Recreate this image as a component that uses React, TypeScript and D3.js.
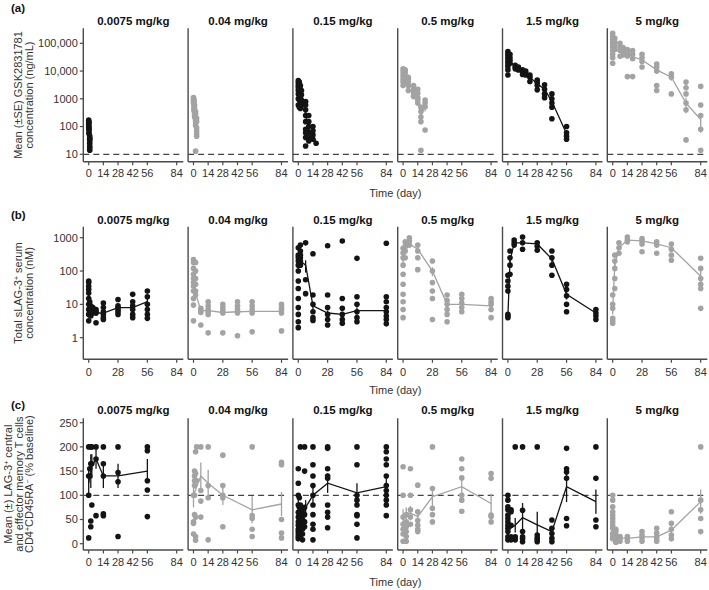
import React from "react";
import * as d3 from "d3";

// dose panels, left to right
const doses = ["0.0075 mg/kg", "0.04 mg/kg", "0.15 mg/kg", "0.5 mg/kg", "1.5 mg/kg", "5 mg/kg"];

type Grp = [number, number[]]; // [day, individual values]
type Mean = [number, number, number]; // [day, mean, se]

// (a) GSK2831781 concentration (ng/mL)
const pk0075: Grp[] = [[0, [170, 150, 130, 110, 90]], [0.3, [140, 100, 80, 60, 75, 55]], [1, [45, 38, 35, 30, 25, 20, 17, 14]]];
const pk004: Grp[] = [[0, [1100, 950, 800, 700]], [0.5, [900, 750, 600, 500, 420, 380]], [1, [600, 480, 320, 260, 220]], [2, [350, 280, 180, 150, 110, 13]], [3, [200, 150, 90, 70, 55, 45]]];
const pk015: Grp[] = [[0, [4500, 3800, 3000, 2500, 2000, 1500, 1000, 600]], [1, [4000, 3000, 2400, 1800, 1300, 900, 500]], [2, [3000, 2200, 1600, 1100, 700, 450]], [3, [2000, 1400, 900, 600]], [7, [800, 600, 400, 250, 150, 80, 60, 40, 20]], [10, [250, 150, 100, 60, 40, 30]], [14, [100, 70, 50, 35]], [17, [25]]];
const pk05: Grp[] = [[0, [12000, 10000, 8000, 6500, 5000, 4000, 3000]], [2, [11000, 9000, 7000, 5500, 4000]], [5, [6000, 5000, 4000, 3000, 2000]], [10, [3000, 2500, 2000, 1500, 1200]], [14, [2200, 1600, 1100, 900, 700]], [17, [500, 350, 220, 150, 14]], [21, [900, 700, 520, 75]]];
const pk15: Grp[] = [[0, [50000, 42000, 35000, 28000, 22000, 18000, 14500, 11000, 7200]], [2, [40000, 30000, 24000, 19000]], [7, [16000, 14000, 12000]], [10, [14000, 12000, 11000]], [14, [11000, 9500, 7500]], [17, [10000, 8500, 7200]], [21, [7200, 6000, 4200]], [28, [4700, 3800, 3000, 2100]], [35, [3200, 2200, 1500, 1100]], [42, [1500, 1000, 700, 500, 190]], [56, [100, 60, 45, 35]]];
const pk5: Grp[] = [[0, [230000, 180000, 140000, 110000, 90000, 70000, 55000, 40000, 30000, 19000]], [2, [150000, 110000, 80000, 60000]], [7, [100000, 75000, 55000, 34000]], [10, [70000, 50000, 38000]], [14, [60000, 45000, 35000, 6300]], [19, [55000, 40000, 28000, 6300]], [28, [40000, 30000, 22000, 14000]], [42, [18000, 14000, 10000, 3000, 2000]], [56, [8000, 6000, 1500]], [70, [4000, 2500, 1500, 700, 400, 33]], [84, [2800, 600, 250, 80, 14]]];
const pkMean0075: Mean[] = [[0, 130, 15], [0.3, 90, 12], [1, 28, 4]];
const pkMean004: Mean[] = [[0, 850, 90], [0.5, 620, 80], [1, 380, 60], [2, 180, 50], [3, 100, 25]];
const pkMean015: Mean[] = [[0, 2200, 400], [1, 1900, 400], [2, 1400, 350], [3, 1100, 300], [7, 300, 100], [10, 80, 35], [14, 50, 15], [17, 25, 0]];
const pkMean05: Mean[] = [[0, 7000, 1200], [2, 6000, 1000], [5, 4000, 700], [10, 2000, 300], [14, 1200, 250], [17, 250, 120], [21, 550, 200]];
const pkMean15: Mean[] = [[0, 25000, 4000], [2, 22000, 4000], [7, 14000, 1500], [10, 12000, 1000], [14, 9500, 1000], [17, 8500, 1000], [21, 6000, 800], [28, 3500, 600], [35, 2200, 500], [42, 800, 300], [56, 55, 15]];
const pkMean5: Mean[] = [[0, 80000, 15000], [2, 65000, 12000], [7, 55000, 10000], [10, 45000, 6000], [14, 40000, 8000], [19, 33000, 8000], [28, 25000, 5000], [42, 11000, 3000], [56, 6000, 1500], [70, 700, 400], [84, 180, 120]];

// (b) Total sLAG-3+ serum concentration (nM)
const sl0075: Grp[] = [[0, [50, 45, 35, 28, 22, 15, 10, 7, 5, 3.2]], [1, [12, 8, 7, 6, 5.5, 5]], [2, [9, 7, 6, 5.5, 5, 4.5]], [4, [8, 6.5, 6, 5.5]], [7, [7, 6, 5.5, 2.8]], [14, [11, 8, 6, 5, 4, 3.5]], [28, [14, 9, 8, 7, 6, 5]], [42, [20, 12, 9, 7, 5, 4]], [56, [25, 17, 10, 7, 5, 3.8]]];
const sl004: Grp[] = [[0, [220, 180, 120, 80, 60, 45, 35, 25, 15, 9.5, 3.2]], [2, [180, 100, 60, 40, 25, 19]], [7, [7.6, 6.5, 5.7, 2.4]], [14, [12, 9, 7, 6, 5, 1.4]], [28, [10, 8, 6.5, 5.5, 1.4]], [42, [12, 9, 7, 5.5, 1.15]], [56, [12, 9, 7, 5.5, 1.5]], [84, [10, 8, 7, 5.5, 1.6]]];
const sl015: Grp[] = [[0, [500, 300, 250, 200, 150, 100, 50, 30, 15, 8, 5, 3, 2]], [2, [600, 400, 300, 250, 200, 150]], [7, [700, 55, 21]], [14, [330, 19, 10, 6, 4, 3.3]], [28, [575, 19, 8, 5, 3.5, 2.4]], [42, [800, 15, 7.6, 5, 3.5, 2.7]], [56, [240, 17, 10, 6, 4, 3]], [84, [680, 17, 12, 8, 6, 4.5, 3.5, 2.6]]];
const sl05: Grp[] = [[0, [480, 350, 250, 150, 80, 40, 20, 12, 7, 4]], [2, [750, 550, 400, 250]], [6, [1000, 800, 600]], [14, [600, 400, 250, 110]], [28, [200, 100, 45, 25, 15, 3.5]], [42, [19, 13, 10, 7, 5, 3]], [56, [20, 15, 11, 8, 6]], [84, [15, 12, 10, 7, 4]]];
const sl15: Grp[] = [[0, [75, 50, 35, 25, 5, 4.5, 4]], [2, [400, 250, 150, 80]], [6, [850, 700, 600]], [14, [1050, 700, 450]], [28, [700, 550, 420]], [42, [400, 250, 150, 75]], [56, [40, 28, 18, 10, 6]], [84, [7, 5.5, 4.5, 3.5]]];
const sl5: Grp[] = [[0, [19, 10, 7.6, 3.8, 3.2, 2.7]], [2, [300, 200, 120, 60, 30]], [6, [700, 500, 340]], [14, [1050, 850, 750]], [28, [950, 800, 650, 380]], [42, [750, 600, 340]], [56, [650, 450, 300, 210]], [84, [240, 120, 60, 40, 30, 7.6]]];
const slMean0075: Mean[] = [[0, 20, 5], [1, 7, 1], [2, 6, 1], [4, 6.5, 1], [7, 5.5, 1], [14, 5.5, 1], [28, 8, 1.5], [42, 8, 2], [56, 12, 3]];
const slMean004: Mean[] = [[0, 50, 15], [2, 22, 6], [7, 6.5, 1], [14, 6.5, 1], [28, 5.7, 1], [42, 6, 1], [56, 6.2, 1], [84, 6.2, 1]];
const slMean015: Mean[] = [[0, 150, 40], [2, 200, 50], [7, 150, 60], [14, 9, 2], [28, 5.5, 1], [42, 5, 1], [56, 6.5, 1.5], [84, 6.5, 1.5]];
const slMean05: Mean[] = [[0, 200, 60], [2, 400, 80], [6, 650, 80], [14, 450, 80], [28, 100, 30], [42, 10, 2], [56, 10, 2], [84, 9, 2]];
const slMean15: Mean[] = [[0, 4.5, 0.5], [2, 200, 60], [6, 700, 60], [14, 700, 100], [28, 650, 50], [42, 230, 60], [56, 20, 6], [84, 5.5, 1]];
const slMean5: Mean[] = [[0, 8, 3], [2, 150, 50], [6, 500, 80], [14, 850, 80], [28, 800, 80], [42, 650, 80], [56, 500, 80], [84, 70, 30]];

// (c) LAG-3+ central and effector memory T cells (% baseline)
const tc0075: Grp[] = [[0, [200, 140, 100, 12]], [1, [155, 140]], [2, [200, 165, 47, 35]], [3, [200, 165, 80]], [7, [200, 175, 58]], [14, [200, 165, 140, 62, 58]], [28, [200, 147, 128, 15]], [56, [200, 192, 130, 111, 56]]];
const tc004: Grp[] = [[0, [100, 45, 42, 20]], [1, [150, 140, 130, 120, 100, 60]], [2, [190, 145, 55, 15, 7]], [3, [200, 130]], [7, [200, 110, 88, 55]], [14, [200, 120, 95, 8]], [28, [183, 120, 100, 95, 35]], [56, [200, 58, 52, 30, 15]], [84, [168, 163, 50, 22, 12]]];
const tc015: Grp[] = [[0, [155, 125, 100, 80, 65, 55, 45, 38, 30, 25, 20, 15, 10]], [1, [95, 75, 60, 50, 42, 35, 28, 20, 12]], [2, [200, 80, 62, 55, 45, 38, 30, 22, 15]], [4, [70, 58, 50, 40, 30, 20, 8]], [6, [200, 150, 75, 60, 45, 35]], [14, [200, 163, 140, 120, 100, 80, 60, 40, 30, 8]], [28, [200, 197, 155, 140, 135, 80, 65, 55, 33]], [56, [200, 163, 100, 90, 80, 60, 58, 40, 12]], [84, [200, 190, 175, 163, 140, 120, 110, 100, 90, 80, 58]]];
const tc05: Grp[] = [[0, [159, 100, 55, 40, 30, 20, 5]], [3, [60, 45, 35, 25, 15, 5]], [7, [155, 100, 70, 55, 40]], [14, [121, 66, 48, 38, 30, 25]], [28, [200, 114, 73, 60, 45]], [56, [175, 155, 136, 100, 90, 67]], [84, [145, 135, 59, 56, 45]]];
const tc15: Grp[] = [[0, [100, 90, 76, 70, 59, 52, 45, 38, 32, 25, 14, 8]], [3, [70, 66, 38, 14, 8]], [7, [200, 14, 8]], [14, [200, 69, 25, 14, 10, 4]], [28, [200, 18, 12, 8, 4]], [42, [49, 32, 21, 11, 4]], [56, [197, 155, 148, 135, 52, 37]], [84, [200, 135, 49, 35]]];
const tc5: Grp[] = [[0, [100, 90, 76, 66, 59, 52, 45, 38, 32, 21, 14, 10]], [3, [30, 25, 18, 12, 8, 4, 3]], [7, [15, 10, 5]], [14, [15, 10, 5]], [28, [25, 18, 12, 5]], [42, [32, 22, 15, 10, 5]], [56, [66, 42, 30, 18, 10]], [84, [200, 90, 70, 52, 25]]];
const tcMean0075: Mean[] = [[0, 125, 30], [2, 150, 35], [3, 160, 25], [7, 175, 20], [14, 140, 25], [28, 140, 25], [56, 150, 25]];
const tcMean004: Mean[] = [[0, 100, 25], [7, 140, 28], [14, 125, 28], [28, 100, 20], [56, 70, 28], [84, 82, 25]];
const tcMean015: Mean[] = [[0, 80, 20], [2, 45, 8], [4, 60, 12], [7, 75, 15], [14, 100, 20], [28, 125, 20], [56, 105, 20], [84, 118, 20]];
const tcMean05: Mean[] = [[0, 56, 15], [3, 63, 12], [7, 63, 15], [14, 56, 12], [28, 97, 20], [56, 118, 15], [84, 83, 20]];
const tcMean15: Mean[] = [[0, 28, 10], [7, 38, 15], [14, 54, 30], [28, 39, 27], [42, 25, 8], [56, 118, 32], [84, 87, 25]];
const tcMean5: Mean[] = [[0, 50, 15], [2, 20, 5], [4, 14, 3], [7, 12, 3], [14, 11, 3], [28, 14, 4], [42, 14, 4], [56, 28, 8], [84, 87, 25]];

const BLACK = "#141414";
const GRAY = "#a3a3a3";
const AXIS = "#4a4a4a";
const FONT = "'Liberation Sans', Arial, Helvetica, sans-serif";

const PANEL_W = 100;
const panelLeft = (i: number) => 83.3 + i * 104.8;

type Row = {
  letter: string;
  letterY: number;
  pts: Grp[][];
  means: Mean[][];
  y: d3.ScaleContinuousNumeric<number, number>;
  top: number;
  bottom: number;
  yTicks: number[];
  yFmt: (v: number) => string;
  xTicks: number[];
  ref: number | null;
  titleY: number;
  tickY: number;
  timeY: number;
  label: string[][];
  labelX: number[];
};

const sup = (s: string) => "^" + s;

const rows: Row[] = [
  {
    letter: "(a)", letterY: 12,
    pts: [pk0075, pk004, pk015, pk05, pk15, pk5],
    means: [pkMean0075, pkMean004, pkMean015, pkMean05, pkMean15, pkMean5],
    y: d3.scaleLog().domain([10, 100000]).range([154.3, 43.3]),
    top: 28.3, bottom: 161.7,
    yTicks: [10, 100, 1000, 10000, 100000],
    yFmt: (v) => (v >= 10000 ? d3.format(",")(v) : String(v)),
    xTicks: [0, 14, 28, 42, 56, 84],
    ref: 10, titleY: 25, tickY: 177, timeY: 197,
    label: [["Mean (±SE) GSK2831781"], ["concentration (ng/mL)"]],
    labelX: [18.5, 29.5],
  },
  {
    letter: "(b)", letterY: 219,
    pts: [sl0075, sl004, sl015, sl05, sl15, sl5],
    means: [slMean0075, slMean004, slMean015, slMean05, slMean15, slMean5],
    y: d3.scaleLog().domain([1, 1000]).range([337.7, 237.7]),
    top: 226.7, bottom: 359.3,
    yTicks: [1, 10, 100, 1000],
    yFmt: (v) => String(v),
    xTicks: [0, 28, 56, 84],
    ref: null, titleY: 224, tickY: 376, timeY: 394,
    label: [["Total sLAG-3", sup("+"), " serum"], ["concentration (nM)"]],
    labelX: [18.5, 29.5],
  },
  {
    letter: "(c)", letterY: 409,
    pts: [tc0075, tc004, tc015, tc05, tc15, tc5],
    means: [tcMean0075, tcMean004, tcMean015, tcMean05, tcMean15, tcMean5],
    y: d3.scaleLinear().domain([0, 250]).range([543.7, 422.7]),
    top: 418.3, bottom: 550,
    yTicks: [0, 50, 100, 150, 200, 250],
    yFmt: (v) => String(v),
    xTicks: [0, 14, 28, 42, 56, 84],
    ref: 100, titleY: 414, tickY: 566, timeY: 586,
    label: [["Mean (±) LAG-3", sup("+"), " central"], ["and effector memory T cells"], ["CD4", sup("+"), "CD45RA", sup("−"), " (% baseline)"]],
    labelX: [8.5, 19, 29.5],
  },
];

function LabelLine({ parts, x, y }: { parts: string[]; x: number; y: number }) {
  return (
    <text transform={`translate(${x},${y}) rotate(-90)`} textAnchor="middle" dy="0.35em"
      fontSize={11} fill="#333" fontFamily={FONT}>
      {parts.map((p, k) =>
        p.startsWith("^") ? (
          <tspan key={k} fontSize={7} baselineShift="super">{p.slice(1)}</tspan>
        ) : (
          <tspan key={k}>{p}</tspan>
        )
      )}
    </text>
  );
}

function Panel({ row, i }: { row: Row; i: number }) {
  const x0 = panelLeft(i);
  const x = d3.scaleLinear().domain([-5.15, 90.3]).range([x0, x0 + PANEL_W]);
  const y = row.y;
  const color = i % 2 === 0 ? BLACK : GRAY;
  const line = d3.line<Mean>().x((d) => x(d[0])).y((d) => y(d[1]));
  const means = row.means[i];
  return (
    <g>
      <text x={x0 + PANEL_W / 2} y={row.titleY} textAnchor="middle" fontWeight="bold" fontSize={11.5}
        fontFamily={FONT} fill="#111">{doses[i]}</text>
      {row.ref !== null && (
        <line x1={x0} x2={x0 + PANEL_W} y1={y(row.ref)} y2={y(row.ref)} stroke="#444"
          strokeWidth={1.3} strokeDasharray="6,4" />
      )}
      {row.pts[i].flatMap(([d, vals], gi) =>
        vals.map((v, k) => <circle key={`${gi}-${k}`} cx={x(d)} cy={y(v)} r={2.8} fill={color} />)
      )}
      {means.map(([d, m, se], k) =>
        se > 0 ? (
          <line key={k} x1={x(d)} x2={x(d)} y1={y(Math.max(m - se, y.domain()[0] > 0 ? 0.5 : -20))}
            y2={y(m + se)} stroke={color} strokeWidth={1.3} />
        ) : null
      )}
      <path d={line(means) || ""} fill="none" stroke={color} strokeWidth={1.3} />
      {/* axes */}
      <line x1={x0} x2={x0} y1={row.top} y2={row.bottom} stroke={AXIS} strokeWidth={1.4} />
      <line x1={x0} x2={x0 + PANEL_W} y1={row.bottom} y2={row.bottom} stroke={AXIS} strokeWidth={1.4} />
      {row.xTicks.map((t) => (
        <g key={t}>
          <line x1={x(t)} x2={x(t)} y1={row.bottom} y2={row.bottom + 3.5} stroke={AXIS} strokeWidth={1.2} />
          <text x={x(t)} y={row.tickY} textAnchor="middle" fontSize={11} fill="#333" fontFamily={FONT}>{t}</text>
        </g>
      ))}
      {i === 0 &&
        row.yTicks.map((t) => (
          <g key={t}>
            <line x1={x0 - 3.5} x2={x0} y1={y(t)} y2={y(t)} stroke={AXIS} strokeWidth={1.2} />
            <text x={x0 - 5.5} y={y(t)} dy="0.35em" textAnchor="end" fontSize={11} fill="#333" fontFamily={FONT}>
              {row.yFmt(t)}
            </text>
          </g>
        ))}
    </g>
  );
}

export default function App() {
  const span = [panelLeft(0), panelLeft(5) + PANEL_W];
  return (
    <svg width={709} height={590} style={{ position: "absolute", left: 0, top: 0, background: "#fff" }}>
      {rows.map((row, r) => {
        const mid = (row.top + row.bottom) / 2;
        return (
          <g key={r}>
            <text x={11} y={row.letterY} fontWeight="bold" fontSize={11.5} fontFamily={FONT} fill="#111">{row.letter}</text>
            {row.label.map((parts, k) => (
              <LabelLine key={k} parts={parts} x={row.labelX[k]} y={mid} />
            ))}
            {doses.map((_, i) => <Panel key={i} row={row} i={i} />)}
            <text x={(span[0] + span[1]) / 2} y={row.timeY} textAnchor="middle" fontSize={11} fill="#333"
              fontFamily={FONT}>Time (day)</text>
          </g>
        );
      })}
    </svg>
  );
}
